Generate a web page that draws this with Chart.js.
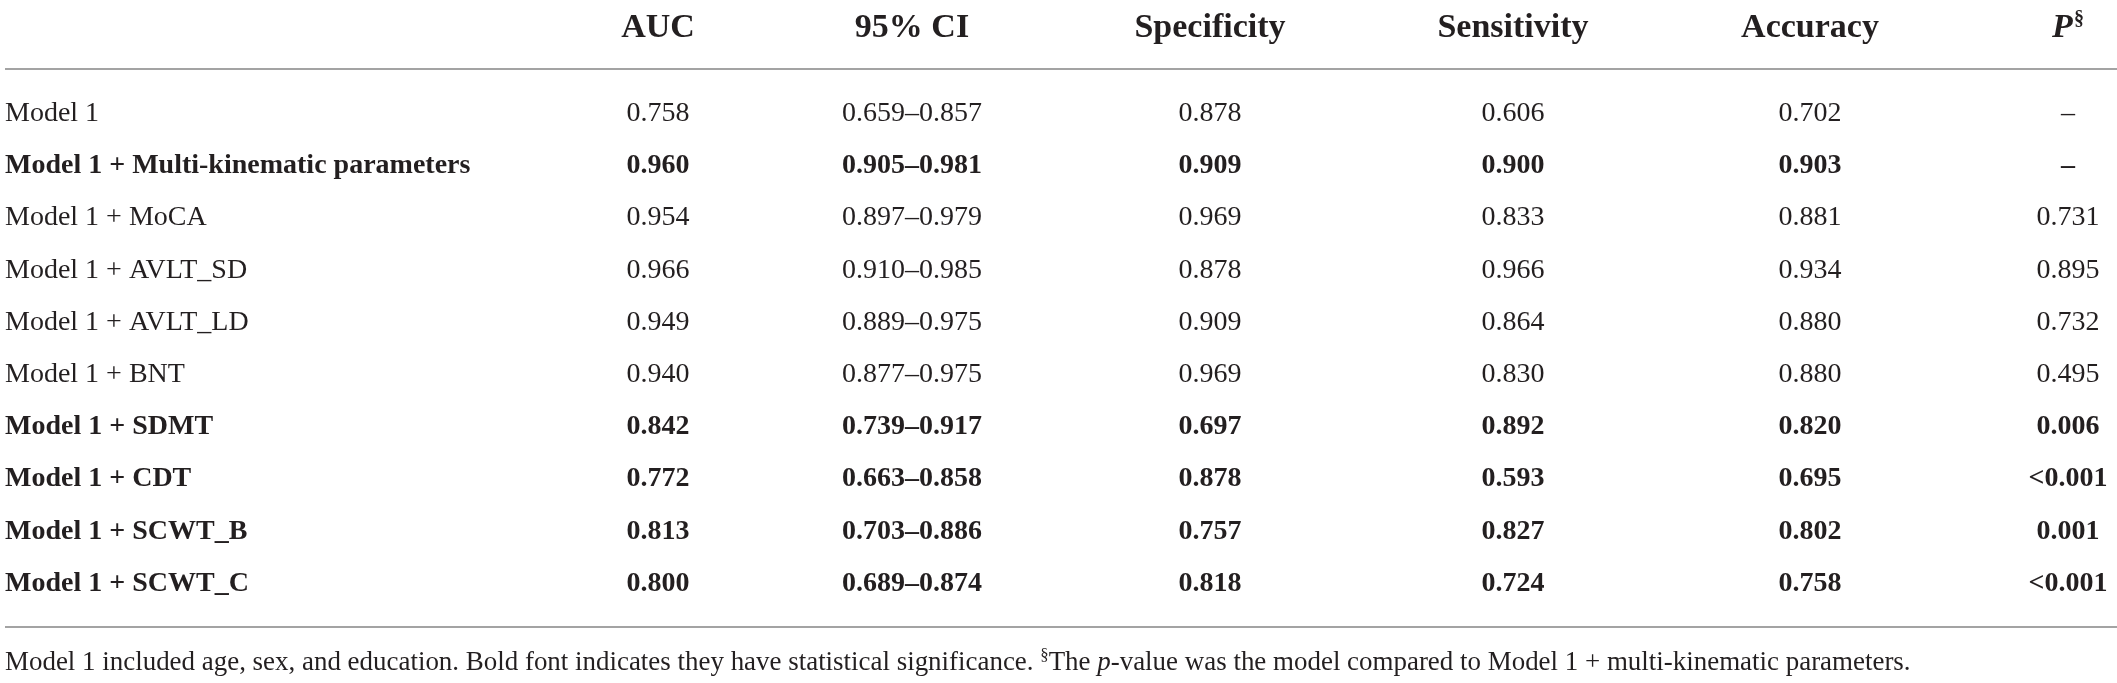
<!DOCTYPE html>
<html>
<head>
<meta charset="utf-8">
<script src="https://cdn.jsdelivr.net/npm/chart.js@4.4.1/dist/chart.umd.min.js"></script>
<style>
html, body { margin: 0; padding: 0; background: #fff; }
#wrap { width: 2117px; height: 683px; position: relative; }
</style>
</head>
<body>
<div id="wrap"><canvas id="aucTable"></canvas></div>
<script>
const rows = [
    'Model 1',
    'Model 1 + Multi-kinematic parameters',
    'Model 1 + MoCA',
    'Model 1 + AVLT_SD',
    'Model 1 + AVLT_LD',
    'Model 1 + BNT',
    'Model 1 + SDMT',
    'Model 1 + CDT',
    'Model 1 + SCWT_B',
    'Model 1 + SCWT_C'
];
const significant = [false, true, false, false, false, false, true, true, true, true];
const headers = ['AUC', '95% CI', 'Specificity', 'Sensitivity', 'Accuracy', 'P§'];

const auc = [0.758, 0.960, 0.954, 0.966, 0.949, 0.940, 0.842, 0.772, 0.813, 0.800];
const ciLow = [0.659, 0.905, 0.897, 0.910, 0.889, 0.877, 0.739, 0.663, 0.703, 0.689];
const ciHigh = [0.857, 0.981, 0.979, 0.985, 0.975, 0.975, 0.917, 0.858, 0.886, 0.874];
const specificity = [0.878, 0.909, 0.969, 0.878, 0.909, 0.969, 0.697, 0.878, 0.757, 0.818];
const sensitivity = [0.606, 0.900, 0.833, 0.966, 0.864, 0.830, 0.892, 0.593, 0.827, 0.724];
const accuracy = [0.702, 0.903, 0.881, 0.934, 0.880, 0.880, 0.820, 0.695, 0.802, 0.758];
const pValues = ['–', '–', '0.731', '0.895', '0.732', '0.495', '0.006', '<0.001', '0.001', '<0.001'];

const footnote = [
    { text: 'Model 1 included age, sex, and education. Bold font indicates they have statistical significance. ' },
    { text: '§', sup: true },
    { text: 'The ' },
    { text: 'p', italic: true },
    { text: '-value was the model compared to Model 1 + multi-kinematic parameters.' }
];

const fmt = v => v.toFixed(3);
const cellText = [
    auc.map(fmt),
    ciLow.map((v, i) => fmt(v) + '–' + fmt(ciHigh[i])),
    specificity.map(fmt),
    sensitivity.map(fmt),
    accuracy.map(fmt),
    pValues
];

const FAMILY = '"Liberation Serif", "Times New Roman", serif';
const INK = '#231f20';
const RULE = '#a3a3a3';
// small optical nudges so the columns sit where the printed table has them
const colNudge = [0, -28, -12, 9, 24, 0];

const tablePlugin = {
    id: 'tableText',
    afterDatasetsDraw(chart) {
        const { ctx, chartArea } = chart;
        const W = chart.width;
        ctx.save();
        ctx.fillStyle = INK;

        // body cells
        ctx.textAlign = 'center';
        ctx.textBaseline = 'middle';
        chart.data.datasets.forEach((ds, c) => {
            chart.getDatasetMeta(c).data.forEach((pt, r) => {
                ctx.font = (significant[r] ? 'bold ' : '') + '28px ' + FAMILY;
                ctx.fillText(ds.cellText[r], pt.x + colNudge[c], pt.y);
            });
        });

        // header row
        const xs = chart.scales.x;
        const headY = chartArea.top - 76.5;
        ctx.textBaseline = 'alphabetic';
        headers.forEach((h, c) => {
            const x = xs.getPixelForValue(c) + colNudge[c];
            if (h.endsWith('§')) {
                ctx.font = 'italic bold 34px ' + FAMILY;
                const wP = ctx.measureText('P').width;
                ctx.font = 'bold 20px ' + FAMILY;
                const wS = ctx.measureText('§').width;
                const start = x - (wP + wS + 1) / 2;
                ctx.textAlign = 'left';
                ctx.font = 'italic bold 34px ' + FAMILY;
                ctx.fillText('P', start, headY);
                ctx.font = 'bold 20px ' + FAMILY;
                ctx.fillText('§', start + wP + 1, headY - 12);
            } else {
                ctx.textAlign = 'center';
                ctx.font = 'bold 34px ' + FAMILY;
                ctx.fillText(h, x, headY);
            }
        });

        // horizontal rules
        ctx.strokeStyle = RULE;
        ctx.lineWidth = 2;
        const topRule = chartArea.top - 44.5;
        const botRule = chartArea.bottom + 43.5;
        [topRule, botRule].forEach(y => {
            ctx.beginPath();
            ctx.moveTo(5, y);
            ctx.lineTo(W, y);
            ctx.stroke();
        });

        // footnote, sized to the printed line length
        const base = 26;
        const segFont = (s, size) => (s.italic ? 'italic ' : '') + (s.sup ? size * 0.62 : size) + 'px ' + FAMILY;
        let total = 0;
        footnote.forEach(s => { ctx.font = segFont(s, base); total += ctx.measureText(s.text).width; });
        const size = base * 1907 / total;
        let fx = 5;
        const fy = chartArea.bottom + 86.5;
        ctx.textAlign = 'left';
        footnote.forEach(s => {
            ctx.font = segFont(s, size);
            ctx.fillText(s.text, fx, s.sup ? fy - size * 0.38 : fy);
            fx += ctx.measureText(s.text).width;
        });
        ctx.restore();
    }
};

new Chart(document.getElementById('aucTable'), {
    type: 'scatter',
    data: {
        datasets: headers.map((h, c) => ({
            label: h,
            data: rows.map(r => ({ x: h, y: r })),
            pointRadius: 0,
            cellText: cellText[c]
        }))
    },
    options: {
        responsive: true,
        maintainAspectRatio: false,
        animation: false,
        layout: { padding: { left: 5, right: 49, top: 113.5, bottom: 99.5 } },
        plugins: {
            legend: { display: false },
            tooltip: { enabled: false }
        },
        scales: {
            x: {
                type: 'category',
                labels: headers,
                offset: false,
                display: false
            },
            y: {
                type: 'category',
                labels: rows,
                offset: false,
                grid: { display: false },
                border: { display: false },
                afterFit(scale) { scale.width = 653; },
                ticks: {
                    autoSkip: false,
                    crossAlign: 'far',
                    color: INK,
                    font: c => ({ family: FAMILY, size: 28, weight: significant[c.index] ? 'bold' : 'normal' })
                }
            }
        }
    },
    plugins: [tablePlugin]
});
</script>
</body>
</html>
